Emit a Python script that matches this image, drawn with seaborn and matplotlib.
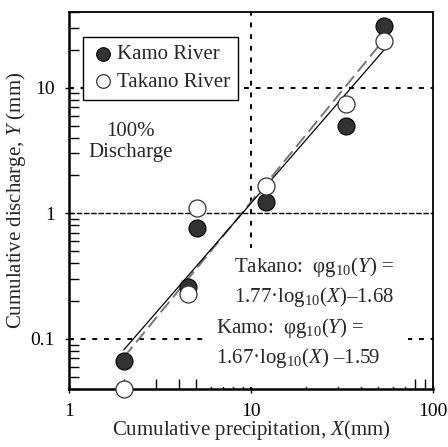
import numpy as np
import pandas as pd
import matplotlib
matplotlib.use("Agg")
import matplotlib.pyplot as plt
import matplotlib.ticker as mticker
from matplotlib.patches import Rectangle
import seaborn as sns

sns.set_theme(style="ticks")
plt.rcParams["font.family"] = ["Liberation Serif", "DejaVu Serif"]
plt.rcParams["mathtext.fontset"] = "custom"
plt.rcParams["mathtext.rm"] = "Liberation Serif"
plt.rcParams["mathtext.it"] = "Liberation Serif:italic"

# Observed cumulative precipitation (X) and discharge (Y), mm
kamo_x = [2.0, 4.5, 5.05, 12.1, 33.3, 54.0]
kamo_y = [0.067, 0.26, 0.77, 1.22, 5.0, 31.0]
takano_x = [2.0, 4.5, 5.05, 12.1, 33.3, 54.0]
takano_y = [0.04, 0.227, 1.1, 1.64, 7.46, 23.6]

# Regression coefficients: log10(Y) = a*log10(X) + b
takano_fit = (1.77, -1.68)
kamo_fit = (1.67, -1.59)
fit_range = [2.0, 55.0]

kamo = pd.DataFrame({"x": kamo_x, "y": kamo_y})
takano = pd.DataFrame({"x": takano_x, "y": takano_y})
xf = np.array(fit_range)
kamo_line = pd.DataFrame({"x": xf, "y": 10 ** (kamo_fit[0] * np.log10(xf) + kamo_fit[1])})
takano_line = pd.DataFrame({"x": xf, "y": 10 ** (takano_fit[0] * np.log10(xf) + takano_fit[1])})

FS = 15

fig = plt.figure(figsize=(4.48, 4.47), dpi=100)
ax = fig.add_axes([0.154, 0.130, 0.8125, 0.843])
ax.set_xscale("log")
ax.set_yscale("log")
ax.set_xlim(1, 100)
ax.set_ylim(0.04, 40)

# Reference lines
ax.axhline(1, color="black", lw=1.0, ls=(0, (4, 1.2)), zorder=1)
ax.axhline(10, color="black", lw=1.4, ls=(0, (2.5, 3.5)), zorder=1)
ax.axhline(0.1, color="black", lw=1.4, ls=(0, (2.5, 3.5)), zorder=1)
ax.axvline(10, color="black", lw=1.4, ls=(0, (2.5, 3.5)), zorder=1)

# White panel behind the regression equations (hides the guide lines only)
ax.add_patch(Rectangle((0.382, 0.005), 0.549, 0.37, transform=ax.transAxes,
                       facecolor="white", edgecolor="none", zorder=1.5))

# Fitted lines
sns.lineplot(data=takano_line, x="x", y="y", ax=ax, color="#777777", lw=1.4,
             dashes=False, zorder=2)
ax.lines[-1].set_dashes([7, 3])
sns.lineplot(data=kamo_line, x="x", y="y", ax=ax, color="black", lw=0.9, zorder=2)

# Observations
sns.scatterplot(data=kamo, x="x", y="y", ax=ax, s=150, color="#333333",
                edgecolor="black", linewidth=0.8, zorder=3, clip_on=False,
                label="Kamo River")
sns.scatterplot(data=takano, x="x", y="y", ax=ax, s=150, color="white",
                edgecolor="#333333", linewidth=0.9, zorder=3, clip_on=False,
                label="Takano River")

leg = ax.legend(loc="upper left", bbox_to_anchor=(0.038, 0.934), fontsize=FS,
                frameon=True, fancybox=False, edgecolor="black", framealpha=1,
                borderpad=0.38, handletextpad=0.1, labelspacing=0.38,
                markerscale=0.8, handlelength=1.15, borderaxespad=0)
leg.get_frame().set_linewidth(1.0)
leg.set_zorder(5)

# Annotations
ax.text(0.168, 0.655, "100%\nDischarge", transform=ax.transAxes, ha="center",
        va="center", fontsize=FS, linespacing=1.2)
ax.text(0.453, 0.284, "Takano:  \u03c6g$_{10}$($\\mathit{Y}$) =\n1.77\u00b7log$_{10}$($\\mathit{X}$)\u20131.68",
        transform=ax.transAxes, ha="left", va="center", fontsize=FS,
        linespacing=1.35, zorder=4)
ax.text(0.404, 0.122, "Kamo:  \u03c6g$_{10}$($\\mathit{Y}$) =\n1.67\u00b7log$_{10}$($\\mathit{X}$) \u20131.59",
        transform=ax.transAxes, ha="left", va="center", fontsize=FS,
        linespacing=1.35, zorder=4)

# Axes styling
for s in ax.spines.values():
    s.set_linewidth(1.3)
    s.set_color("black")
ax.spines["left"].set_linewidth(1.8)
ax.spines["bottom"].set_linewidth(1.8)

ax.xaxis.set_major_locator(mticker.FixedLocator([1, 10, 100]))
ax.xaxis.set_major_formatter(mticker.FixedFormatter(["1", "10", "100"]))
ax.yaxis.set_major_locator(mticker.FixedLocator([0.1, 1, 10]))
ax.yaxis.set_major_formatter(mticker.FixedFormatter(["0.1", "1", "10"]))
ax.xaxis.set_minor_locator(mticker.LogLocator(base=10, subs=np.arange(2, 10)))
ax.yaxis.set_minor_locator(mticker.LogLocator(base=10, subs=np.arange(2, 10)))
ax.xaxis.set_minor_formatter(mticker.NullFormatter())
ax.yaxis.set_minor_formatter(mticker.NullFormatter())
ax.tick_params(which="major", direction="inout", length=6, width=1.0,
               labelsize=14, pad=7, color="black", labelcolor="black")
ax.tick_params(which="minor", direction="in", length=7, width=1.0, color="black")
ax.tick_params(top=False, right=False, which="both")

ax.set_xlabel("Cumulative precipitation, $\\mathit{X}$(mm)", fontsize=FS)
ax.set_ylabel("Cumulative discharge, $\\mathit{Y}$ (mm)", fontsize=FS)
ax.xaxis.set_label_coords(0.5, -0.078)
ax.yaxis.set_label_coords(-0.113, 0.5)

fig.savefig("out.png", dpi=100, facecolor="white")
